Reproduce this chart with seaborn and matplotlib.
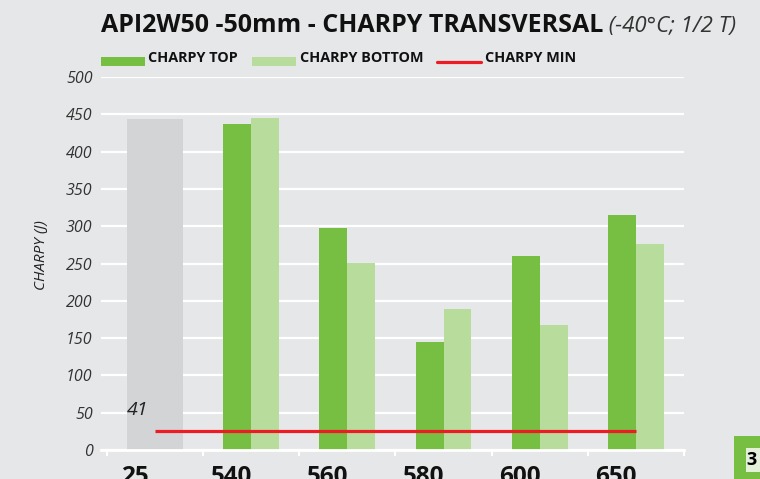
import matplotlib
matplotlib.use("Agg")
import matplotlib.pyplot as plt
import matplotlib.transforms as mtransforms
from matplotlib.patches import Rectangle
from matplotlib.lines import Line2D
import seaborn as sns
import pandas as pd

# ---------------- data ----------------
categories = ["25", "540", "560", "580", "600", "650"]
reference_category = ["25"]
reference_value = [444]
green_categories = ["540", "560", "580", "600", "650"]
charpy_top = [437, 298, 145, 260, 315]
charpy_bottom = [445, 251, 189, 168, 276]
series_names = ["CHARPY TOP", "CHARPY BOTTOM"]
min_name = "CHARPY MIN"
charpy_min_level = 26
charpy_min_label = "41"
y_ticks = [0, 50, 100, 150, 200, 250, 300, 350, 400, 450, 500]
title_main = "API2W50 -50mm - CHARPY TRANSVERSAL"
title_sub = " (-40°C; 1/2 T)"
y_label = "CHARPY (J)"
page_number = "3"

# ---------------- style ----------------
BG = "#e6e7e8"
GRAY = "#d3d4d6"
DARK = "#76bf43"
LIGHT = "#b8dc9b"
RED = "#ed1c24"
W, H = 760, 479

sns.set_theme(style="white")
plt.rcParams["font.family"] = ["Open Sans", "DejaVu Sans"]

fig = plt.figure(figsize=(W / 100, H / 100), dpi=100)
fig.patch.set_facecolor(BG)
ax = fig.add_axes([101 / W, (H - 450) / H, (684 - 101) / W, (450 - 77) / H])
ax.set_facecolor(BG)

ref_df = pd.DataFrame({"Category": reference_category, "Charpy": reference_value})
df = pd.DataFrame({
    "Category": green_categories * 2,
    "Charpy": charpy_top + charpy_bottom,
    "Series": [series_names[0]] * len(charpy_top) + [series_names[1]] * len(charpy_bottom),
})

sns.barplot(data=ref_df, x="Category", y="Charpy", order=categories, color=GRAY,
            width=0.58, saturation=1, errorbar=None, linewidth=0, ax=ax)
sns.barplot(data=df, x="Category", y="Charpy", hue="Series", order=categories,
            hue_order=series_names, palette=[DARK, LIGHT], width=0.58, saturation=1,
            errorbar=None, linewidth=0, legend=False, ax=ax)

ax.hlines(charpy_min_level, 0, len(categories) - 1, color=RED, lw=2.3, zorder=5)
ax.text(-0.18, 53, charpy_min_label, ha="center", va="center", style="italic",
        fontsize=14, color="#222222", zorder=6)

unit = (684 - 101) / 6.0
ax.set_xlim(-0.5 - 6 / unit * 1.0, len(categories) - 0.5)
ax.set_ylim(0, 500)
ax.set_yticks(y_ticks)
ax.set_yticklabels([str(v) for v in y_ticks], style="italic", color="#333333", fontsize=11.5)
ax.yaxis.grid(True, color="white", lw=1.6)
ax.xaxis.grid(False)
ax.set_axisbelow(True)
ax.tick_params(axis="y", length=0, pad=6)

ax.set_xticks(range(len(categories)))
ax.set_xticklabels(categories, fontweight="bold", fontsize=17.5, color="#111111")
ax.set_xticks([i - 0.5 for i in range(len(categories) + 1)], minor=True)
ax.tick_params(axis="x", which="major", length=0, pad=11)
ax.tick_params(axis="x", which="minor", length=4.5, width=1.5, color="white", bottom=True)
offset = mtransforms.ScaledTranslation(-20 / 100, 0, fig.dpi_scale_trans)
for lab in ax.get_xticklabels():
    lab.set_transform(lab.get_transform() + offset)

ax.set_xlabel("")
ax.set_ylabel("")
for s in ["top", "right", "left"]:
    ax.spines[s].set_visible(False)
ax.spines["bottom"].set_color("white")
ax.spines["bottom"].set_linewidth(2)

# y label
fig.text(41.5 / W, 1 - 255 / H, y_label, rotation=90, ha="center", va="center",
         style="italic", fontsize=11, color="#222222")

# title
t1 = fig.text(101 / W, 1 - 32 / H, title_main, ha="left", va="baseline",
              fontweight="bold", fontsize=18, color="#111111")
fig.canvas.draw()
bb = t1.get_window_extent()
fig.text(bb.x1 / W, 1 - 32 / H, title_sub, ha="left", va="baseline",
         style="italic", fontsize=16, color="#333333")

# legend
def fx(px):
    return px / W

def fy(py):
    return 1 - py / H

fig.patches.append(Rectangle((fx(101), fy(66)), 44 / W, 9 / H, transform=fig.transFigure,
                             facecolor=DARK, edgecolor="none"))
fig.text(fx(148), fy(61.5), series_names[0], ha="left", va="baseline",
         fontweight="bold", fontsize=10.4, color="#111111")
fig.patches.append(Rectangle((fx(252), fy(66)), 44 / W, 9 / H, transform=fig.transFigure,
                             facecolor=LIGHT, edgecolor="none"))
fig.text(fx(300), fy(61.5), series_names[1], ha="left", va="baseline",
         fontweight="bold", fontsize=10.4, color="#111111")
fig.lines.append(Line2D([fx(437), fx(481)], [fy(62), fy(62)], transform=fig.transFigure,
                        color=RED, lw=2.3))
fig.text(fx(485), fy(61.5), min_name, ha="left", va="baseline",
         fontweight="bold", fontsize=10.4, color="#111111")

# page tag
fig.patches.append(Rectangle((fx(734), 0), 26 / W, (479 - 436) / H, transform=fig.transFigure,
                             facecolor=DARK, edgecolor="none"))
fig.patches.append(Rectangle((fx(746), fy(472)), 14 / W, (472 - 448) / H, transform=fig.transFigure,
                             facecolor="#e4f1da", edgecolor="none"))
fig.text(fx(746), fy(460), page_number, ha="left", va="center", fontweight="bold",
         fontsize=13, color="#000000")

fig.savefig("out.png", dpi=100, facecolor=BG)
